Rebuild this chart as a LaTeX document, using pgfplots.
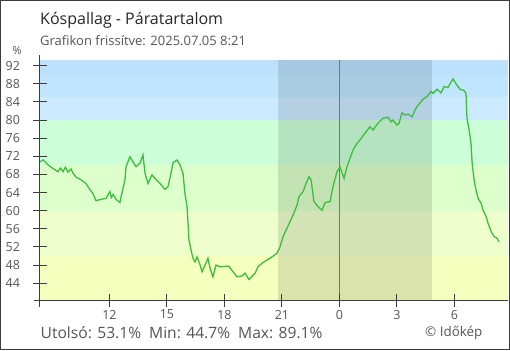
\documentclass[border=0pt]{standalone}
\usepackage{pgfplots}
\pgfplotsset{compat=1.18}
\usepackage{fontspec}
\setmainfont{Open Sans}
\definecolor{bandA}{RGB}{189,224,252}
\definecolor{bandB}{RGB}{192,230,253}
\definecolor{bandC}{RGB}{204,234,255}
\definecolor{bandD}{RGB}{204,255,216}
\definecolor{bandE}{RGB}{221,255,204}
\definecolor{bandF}{RGB}{238,255,204}
\definecolor{bandG}{RGB}{245,255,190}
\definecolor{linecol}{RGB}{60,190,60}
\definecolor{axcol}{RGB}{60,60,60}
\definecolor{txtcol}{RGB}{85,85,85}
\definecolor{vcol}{RGB}{52,136,200}
\begin{document}
\begin{tikzpicture}[x=1pt,y=1pt]
\useasboundingbox (0,0) rectangle (510,350);
\draw[color=axcol, line width=1pt] (0.5,0.5) rectangle (509.5,349.5);
\node[anchor=base west, inner sep=0, text=black!85] at (40,325) {\fontsize{16}{18}\selectfont Kóspallag - Páratartalom};
\node[anchor=base west, inner sep=0, text=txtcol] at (40,304.5) {\fontsize{13}{15}\selectfont Grafikon frissítve: 2025.07.05 8:21};
\node[anchor=base west, inner sep=0, text=txtcol] at (12.5,295) {\fontsize{11}{12}\selectfont \%};
\node[anchor=base west, inner sep=0, text=txtcol] at (40.5,11.7) {\fontsize{15.6}{17}\selectfont Utolsó: 53.1\%\ \ Min: 44.7\%\ \ Max: 89.1\%};
\node[anchor=base west, inner sep=0, text=txtcol] at (425,14) {\fontsize{13.4}{15}\selectfont © Időkép};
\begin{axis}[
  at={(40pt,50pt)}, anchor=south west,
  scale only axis, width=468pt, height=240pt,
  xmin=8.38, xmax=32.79, ymin=40.28, ymax=93.26,
  axis x line*=bottom, axis y line*=left,
  axis line style={-, color=axcol, line width=1pt},
  axis on top,
  clip=false,
  xtick={12,15,18,21,24,27,30},
  xticklabels={12,15,18,21,0,3,6},
  ytick={44,48,...,92},
  tick align=center,
  major tick length=13pt,
  tick style={color=axcol, line width=1pt},
  /pgf/number format/assume math mode=true,
  ticklabel style={text=txtcol, font=\fontsize{12.5}{13}\selectfont},
  yticklabel style={anchor=east, xshift=-10pt},
  xticklabel style={anchor=north, yshift=0pt},
]
\fill[bandG] (axis cs:8.38,40.28) rectangle (axis cs:32.79,50);
\fill[bandF] (axis cs:8.38,50) rectangle (axis cs:32.79,60);
\fill[bandE] (axis cs:8.38,60) rectangle (axis cs:32.79,70);
\fill[bandD] (axis cs:8.38,70) rectangle (axis cs:32.79,80);
\fill[bandC] (axis cs:8.38,80) rectangle (axis cs:32.79,85);
\fill[bandB] (axis cs:8.38,85) rectangle (axis cs:32.79,90);
\fill[bandA] (axis cs:8.38,90) rectangle (axis cs:32.79,93.26);
\fill[black, opacity=0.11] (axis cs:20.80,40.28) rectangle (axis cs:28.83,93.26);
\draw[vcol, line width=1pt] (axis cs:24,93.26) -- ([yshift=-7pt]axis cs:24,40.28);
\draw[axcol, line width=1pt] ([yshift=-7pt]axis cs:8.38,40.28) -- ([yshift=5pt]axis cs:8.38,93.26);
\draw[axcol, line width=1pt] ([xshift=-6pt]axis cs:8.38,40.28) -- (axis cs:8.38,40.28);
\addplot[linecol, line width=1.3pt, mark=none] coordinates {
(8.38,70.8) (8.55,71.2) (8.80,70.1) (9.06,69.3) (9.32,68.6) (9.45,69.4) (9.58,68.6) (9.70,69.6) (9.84,68.5) (10.00,69.2) (10.10,68.3) (10.26,67.4) (10.52,66.8) (10.78,66.0) (10.99,64.6) (11.14,63.8) (11.30,62.2) (11.56,62.5) (11.82,62.7) (12.03,64.2) (12.10,62.9) (12.19,63.6) (12.34,62.5) (12.55,61.8) (12.61,63.1) (12.81,66.8) (12.87,69.7) (13.07,71.9) (13.23,70.8) (13.39,69.7) (13.60,70.5) (13.75,72.3) (13.86,68.2) (14.01,66.0) (14.22,67.9) (14.38,67.1) (14.64,66.0) (14.90,64.7) (15.06,65.3) (15.21,68.2) (15.32,70.6) (15.53,71.2) (15.68,70.1) (15.84,68.2) (15.94,63.8) (16.05,60.9) (16.10,57.2) (16.15,53.5) (16.26,51.3) (16.36,49.5) (16.47,48.7) (16.57,49.8) (16.73,48.0) (16.83,46.5) (16.99,48.0) (17.14,49.5) (17.25,47.3) (17.40,45.4) (17.56,48.0) (17.77,47.6) (18.03,47.7) (18.24,47.7) (18.45,46.5) (18.66,45.4) (18.92,45.6) (19.08,46.2) (19.28,44.8) (19.60,46.2) (19.75,47.6) (19.96,48.4) (20.22,49.1) (20.48,49.8) (20.74,50.6) (20.90,52.0) (21.06,54.3) (21.26,56.1) (21.42,57.6) (21.58,59.0) (21.79,61.3) (21.89,63.1) (22.10,64.2) (22.26,66.0) (22.41,67.5) (22.52,66.8) (22.67,62.0) (22.88,60.9) (23.09,60.1) (23.25,61.8) (23.51,62.0) (23.66,65.3) (23.87,68.6) (24.03,69.6) (24.24,67.1) (24.39,69.7) (24.55,71.6) (24.71,73.4) (24.92,74.9) (25.07,75.6) (25.33,77.1) (25.59,78.5) (25.75,77.8) (26.01,79.3) (26.27,80.4) (26.53,80.6) (26.69,79.6) (26.79,80.0) (27.00,78.9) (27.11,79.3) (27.26,81.6) (27.42,81.1) (27.58,81.3) (27.79,80.7) (27.94,82.2) (28.10,83.3) (28.36,84.6) (28.57,85.2) (28.78,86.3) (28.88,85.9) (29.09,86.8) (29.30,86.0) (29.45,87.4) (29.66,87.2) (29.92,89.1) (30.08,88.0) (30.29,86.8) (30.50,86.5) (30.60,85.9) (30.65,80.4) (30.76,77.8) (30.86,74.9) (30.92,70.5) (31.02,66.8) (31.12,64.6) (31.23,62.7) (31.39,61.6) (31.49,60.1) (31.65,58.7) (31.75,57.2) (31.91,55.4) (32.06,54.3) (32.22,53.9) (32.32,53.1)
};
\end{axis}
\end{tikzpicture}
\end{document}
